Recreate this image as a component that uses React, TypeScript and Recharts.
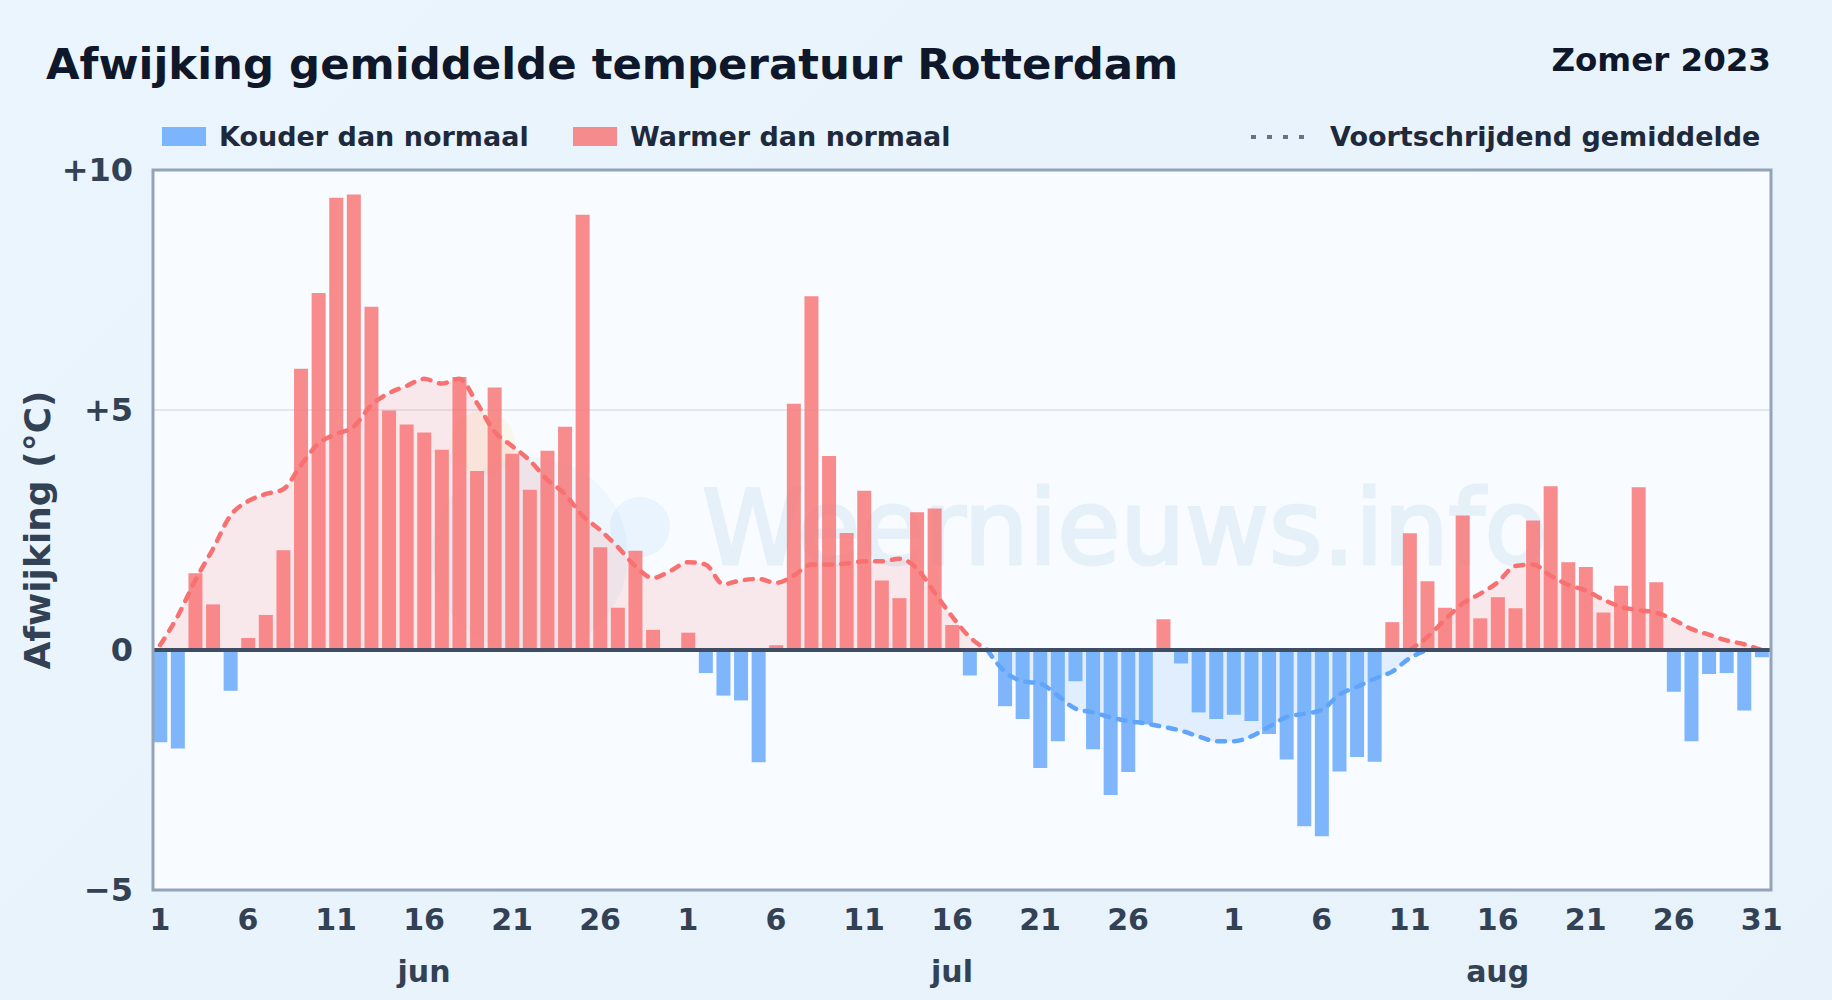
import { Bar, Area, Line, XAxis, YAxis, ReferenceLine, ReferenceArea, ComposedChart } from "recharts";

const FONT = "'DejaVu Sans', sans-serif";

const juneDev = [-1.92, -2.05, 1.6, 0.95, -0.85, 0.25, 0.73, 2.08, 5.86, 7.44, 9.42, 9.49, 7.15, 4.99, 4.7, 4.53, 4.17, 5.69, 3.73, 5.47, 4.09, 3.34, 4.15, 4.65, 9.07, 2.14, 0.88, 2.07, 0.42, 0];
const julyDev = [0.36, -0.48, -0.95, -1.05, -2.34, 0.1, 5.13, 7.37, 4.04, 2.44, 3.32, 1.45, 1.08, 2.87, 2.95, 0.52, -0.53, 0, -1.17, -1.44, -2.46, -1.9, -0.65, -2.07, -3.02, -2.54, -1.55, 0.64, -0.28, -1.3, -1.44];
const augDev = [-1.35, -1.48, -1.75, -2.28, -3.67, -3.88, -2.53, -2.23, -2.33, 0.58, 2.43, 1.43, 0.88, 2.8, 0.66, 1.1, 0.87, 2.7, 3.41, 1.83, 1.73, 0.78, 1.34, 3.39, 1.41, -0.87, -1.9, -0.5, -0.48, -1.26, -0.15];

const juneAvg = [0.1, 0.7, 1.45, 2.1, 2.8, 3.1, 3.25, 3.35, 3.85, 4.3, 4.5, 4.65, 5.1, 5.35, 5.5, 5.65, 5.55, 5.65, 5.15, 4.55, 4.25, 3.95, 3.55, 3.25, 2.8, 2.5, 2.15, 1.75, 1.5, 1.65];
const julyAvg = [1.83, 1.78, 1.37, 1.45, 1.48, 1.4, 1.55, 1.78, 1.78, 1.8, 1.85, 1.85, 1.9, 1.7, 1.2, 0.7, 0.27, 0, -0.45, -0.65, -0.7, -0.95, -1.22, -1.3, -1.4, -1.48, -1.53, -1.6, -1.68, -1.8, -1.9];
const augAvg = [-1.9, -1.8, -1.6, -1.4, -1.33, -1.25, -0.93, -0.77, -0.6, -0.45, -0.17, 0.27, 0.63, 0.97, 1.17, 1.41, 1.75, 1.78, 1.55, 1.36, 1.24, 1.05, 0.9, 0.83, 0.78, 0.63, 0.44, 0.32, 0.2, 0.12, 0];

const dayTicks = [0, 5, 10, 15, 20, 25, 30, 35, 40, 45, 50, 55, 61, 66, 71, 76, 81, 86, 91];
const dayTickLabels = ["1", "6", "11", "16", "21", "26", "1", "6", "11", "16", "21", "26", "1", "6", "11", "16", "21", "26", "31"];
const monthTicks = [15, 45, 76];
const monthLabels = ["jun", "jul", "aug"];
const yTicks = [-5, 0, 5, 10];
const yTickLabels = ["\u22125", "0", "+5", "+10"];

const dev = [...juneDev, ...julyDev, ...augDev];
const avg = [...juneAvg, ...julyAvg, ...augAvg];

const rows = dev.map((v, i) => {
  const a = avg[i];
  const prev = avg[i - 1];
  const next = avg[i + 1];
  const nearWarm = (prev !== undefined && prev > 0) || (next !== undefined && next > 0);
  const nearCold = (prev !== undefined && prev < 0) || (next !== undefined && next < 0);
  return {
    idx: i,
    warm: v > 0 ? v : null,
    cold: v < 0 ? v : null,
    avgWarm: a >= 0 ? a : nearWarm ? 0 : null,
    avgCold: a <= 0 ? a : nearCold ? 0 : null,
  };
});

function LegendSwatch({ color }: { color: string }) {
  return <span style={{ display: "block", width: 44, height: 19, background: color }} />;
}

const legendText = { position: "absolute", top: 119, fontSize: 27, fontWeight: 700, color: "#1e293b", lineHeight: "36px", whiteSpace: "nowrap" } as const;

export default function App() {
  return (
    <div
      style={{
        position: "absolute",
        left: 0,
        top: 0,
        width: 1832,
        height: 1000,
        overflow: "hidden",
        fontFamily: FONT,
        background: "linear-gradient(135deg, #ebf5fd 0%, #e8f3fc 45%, #e8f2fb 100%)",
      }}
    >
      <div style={{ position: "absolute", left: 46, top: 38, fontSize: 43.4, fontWeight: 700, color: "#0f172a", lineHeight: "52px", whiteSpace: "nowrap" }}>
        Afwijking gemiddelde temperatuur Rotterdam
      </div>
      <div style={{ position: "absolute", right: 61, top: 40, fontSize: 32.5, fontWeight: 700, color: "#0f172a", lineHeight: "40px", whiteSpace: "nowrap" }}>
        Zomer 2023
      </div>

      <div style={{ position: "absolute", left: 162, top: 127 }}>
        <LegendSwatch color="rgba(96,165,250,0.8)" />
      </div>
      <div style={{ ...legendText, left: 219 }}>Kouder dan normaal</div>
      <div style={{ position: "absolute", left: 573, top: 127 }}>
        <LegendSwatch color="rgba(248,113,113,0.8)" />
      </div>
      <div style={{ ...legendText, left: 630 }}>Warmer dan normaal</div>
      <svg style={{ position: "absolute", left: 1250, top: 130 }} width={60} height={14}>
        <line x1={1} x2={60} y1={7} y2={7} stroke="#64748b" strokeWidth={4} strokeDasharray="5 11" />
      </svg>
      <div style={{ ...legendText, left: 1330 }}>Voortschrijdend gemiddelde</div>

      <div style={{ position: "absolute", left: 0, top: 0 }}>
        <ComposedChart width={1832} height={1000} data={rows} margin={{ top: 170, right: 61, bottom: 0, left: 0 }}>
          <ReferenceArea y1={-5} y2={10} fill="#f8fbff" fillOpacity={1} stroke="none" zIndex={-200} />

          <g style={{ pointerEvents: "none" }}>
            <circle cx={483} cy={443} r={32} fill="#fde68a" opacity={0.16} />
            <circle cx={530} cy={555} r={98} fill="#38a0f0" opacity={0.05} />
            <circle cx={640} cy={527} r={30} fill="#38a0f0" opacity={0.07} />
            <text x={702} y={564} fontSize={102.5} fontFamily={FONT} fontWeight={400} fill="#308cc8" stroke="#308cc8" strokeWidth={3} opacity={0.09}>
              Weernieuws.info
            </text>
          </g>

          <XAxis
            dataKey="idx"
            type="number"
            domain={[-0.4, 91.53]}
            allowDataOverflow
            ticks={dayTicks}
            interval={0}
            tickFormatter={(v: number) => dayTickLabels[dayTicks.indexOf(v)]}
            axisLine={false}
            tickLine={false}
            height={50}
            tickMargin={13}
            tick={{ fontSize: 30, fontWeight: 700, fill: "#334155", fontFamily: FONT }}
          />
          <XAxis
            xAxisId="month"
            dataKey="idx"
            type="number"
            domain={[-0.4, 91.53]}
            allowDataOverflow
            ticks={monthTicks}
            interval={0}
            tickFormatter={(v: number) => monthLabels[monthTicks.indexOf(v)]}
            axisLine={false}
            tickLine={false}
            height={60}
            tickMargin={15}
            tick={{ fontSize: 30, fontWeight: 700, fill: "#334155", fontFamily: FONT }}
          />
          <YAxis
            type="number"
            domain={[-5, 10]}
            ticks={yTicks}
            interval={0}
            tickFormatter={(v: number) => yTickLabels[yTicks.indexOf(v)]}
            axisLine={false}
            tickLine={false}
            width={153}
            tickMargin={14}
            tick={{ fontSize: 32, fontWeight: 700, fill: "#334155", fontFamily: FONT }}
            label={{
              value: "Afwijking (\u00b0C)",
              angle: -90,
              position: "insideLeft",
              offset: 0,
              dx: 37,
              style: { fontSize: 36, fontWeight: 700, fill: "#334155", fontFamily: FONT, textAnchor: "middle" },
            }}
          />

          <ReferenceLine y={5} stroke="#e2e8f0" strokeWidth={2} zIndex={-100} />

          <Area dataKey="avgWarm" type="monotone" stroke="none" fill="#f87171" fillOpacity={0.14} baseValue={0} isAnimationActive={false} dot={false} activeDot={false} />
          <Area dataKey="avgCold" type="monotone" stroke="none" fill="#60a5fa" fillOpacity={0.15} baseValue={0} isAnimationActive={false} dot={false} activeDot={false} />
          <Line dataKey="avgWarm" type="monotone" stroke="#f87171" strokeWidth={4.5} strokeDasharray="8 9" strokeLinecap="round" dot={false} activeDot={false} isAnimationActive={false} zIndex={250} />
          <Line dataKey="avgCold" type="monotone" stroke="#60a5fa" strokeWidth={4.5} strokeDasharray="8 9" strokeLinecap="round" dot={false} activeDot={false} isAnimationActive={false} zIndex={250} />

          <Bar dataKey="warm" stackId="dev" barSize={14} fill="#f87171" fillOpacity={0.8} isAnimationActive={false} />
          <Bar dataKey="cold" stackId="dev" barSize={14} fill="#60a5fa" fillOpacity={0.8} isAnimationActive={false} />

          <ReferenceLine y={0} stroke="#3f4d62" strokeWidth={4} zIndex={450} />
          <ReferenceArea y1={-5} y2={10} fill="none" stroke="#94a3b8" strokeWidth={3} zIndex={460} />
        </ComposedChart>
      </div>
    </div>
  );
}
